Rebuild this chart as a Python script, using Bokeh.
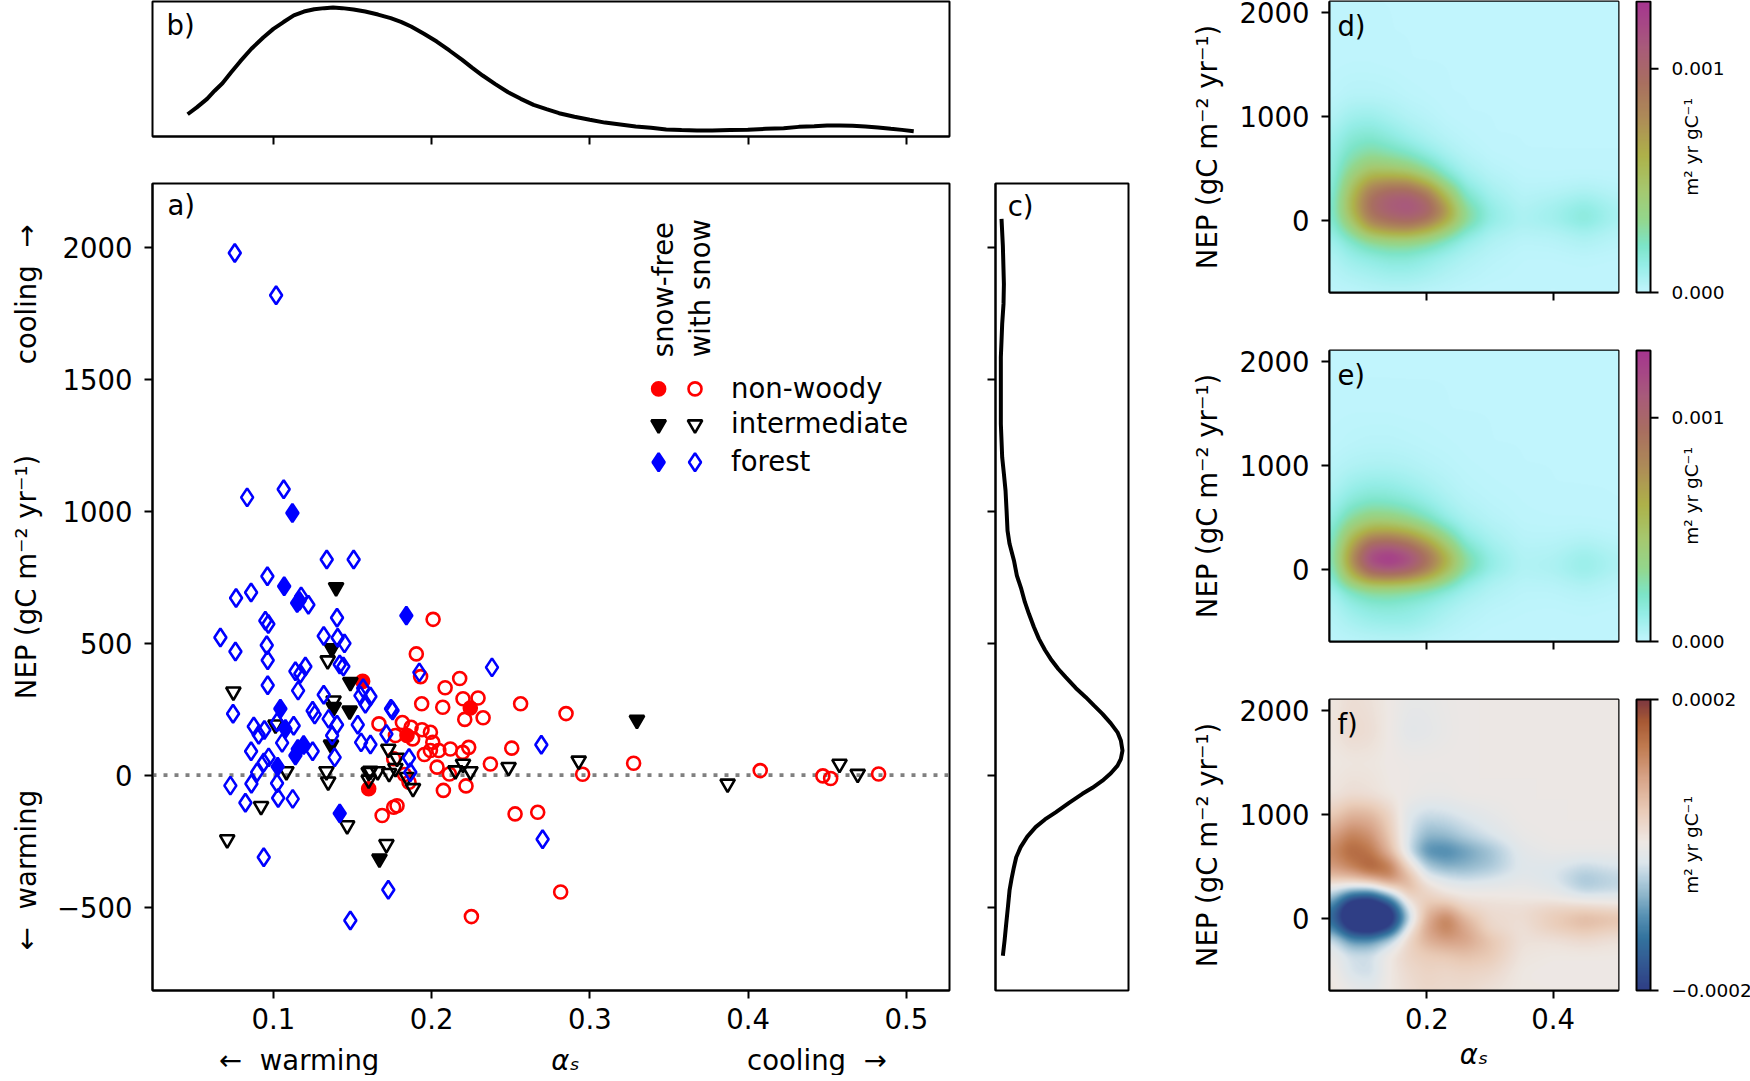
import numpy as np
from bokeh.embed import file_html
from bokeh.resources import INLINE
from bokeh.plotting import figure
from bokeh.layouts import column, row
from bokeh.models import Range1d, FixedTicker, Label, LinearColorMapper, Span

# ---------- scatter data (albedo, NEP) ----------
nonwoody_free_x = [.1564, .2244, .1844, .1602]
nonwoody_free_y = [355, 254, 150, -52]
nonwoody_snow_x = [.2009, .1903, .193, .2177, .2085, .1937, .207, .2198, .2293, .2209, .2325, .2562, .2849, .2506, .2234,
                   .2118, .2045, .1992, .1954, .2196, .2034, .2112, .2371, .2217, .2074, .2954, .3276, .2527, .267, .2815,
                   .2251, .1667, .1815, .1771, .187, .188, .1939, .1992, .2007, .176, .1828, .1857, .1781, .176, .1687,
                   .4076, .4472, .4521, .4824]
nonwoody_snow_y = [590, 459, 373, 366, 331, 270, 257, 289, 292, 211, 217, 270, 233, 102, 105,
                   99, 93, 93, 78, 86, 30, 4, 42, -41, -58, 3, 45, -147, -141, -443,
                   -536, 194, 199, 150, 181, 137, 172, 162, 124, 62, 2, -27, -116, -122, -153,
                   17, -3, -13, 4]
inter_free_x = [.1396, .1369, .1486, .1381, .1482, .1364, .3297, .167]
inter_free_y = [711, 480, 352, 257, 244, 115, 209, -317]
inter_snow_x = [.1343, .0747, .1013, .1082, .1335, .1346, .0922, .1466, .0708, .1714, .1602, .1602, .1612, .1659, .1731,
                .1771, .1781, .1726, .1844, .1882, .215, .2198, .2245, .2486, .2929, .387, .4577, .4692, .138]
inter_snow_y = [434, 316, 191, 14, 14, -25, -118, -191, -244, -262, -18, 11, 16, 14, 7,
                26, 65, 99, -8, -50, 17, 42, 14, 30, 54, -33, 42, 4, 282]
forest_free_x = [.112, .1068, .115, .1165, .184, .1044, .1076, .1191, .1154, .1139, .1027, .1419]
forest_free_y = [993, 715, 652, 660, 604, 251, 175, 114, 99, 74, 32, -145]
forest_snow_x = [.0756, .1017, .0834, .1065, .1337, .1507, .0962, .0859, .0764, .1175, .1221, .1402, .0949, .0968, .0665,
                 .076, .1318, .1406, .1449, .0958, .0964, .1419, .1442, .1202, .1139, .117, .1922, .1567, .0964, .1156,
                 .1318, .155, .1613, .1581, .1743, .1753, .0745, .0876, .0907, .0943, .1023, .1128, .1055, .1248, .1261,
                 .1349, .1402, .1533, .1371, .1554, .1613, .1714, .0859, .097, .0939, .0897, .1248, .1387, .0728, .0861,
                 .1023, .103, .1122, .0823, .0939, .1726, .1486, .1857, .1865, .2381, .2693, .2701]
forest_snow_y = [1978, 1818, 1052, 1083, 817, 817, 753, 692, 671, 677, 645, 596, 585, 572, 521,
                 468, 527, 520, 499, 492, 435, 419, 411, 411, 393, 384, 389, 329, 340, 320,
                 304, 301, 298, 270, 251, 245, 232, 184, 153, 171, 200, 187, 122, 244, 229,
                 213, 191, 191, 150, 124, 116, 156, 90, 67, 48, 11, 90, 67, -40, -33,
                 -31, -87, -90, -105, -311, -434, -551, 65, 11, 408, 115, -243]

# ---------- marginal curves ----------
b_x = [.0458, .0516, .0581, .0629, .0678, .0732, .079, .0861, .0936, .1, .1064, .1129, .1193, .1258, .1322, .1377, .1435,
       .1506, .158, .1661, .1741, .1806, .187, .1951, .2032, .2112, .2193, .2257, .2322, .2402, .2483, .2563, .2644, .2725,
       .2805, .2902, .2999, .3095, .3192, .3289, .3386, .3482, .3579, .3676, .3772, .3885, .3998, .4111, .4224, .432,
       .4417, .4498, .4578, .4659, .474, .482, .4901, .4972, .5046]
b_y = [1.04, 1.36, 1.76, 2.14, 2.49, 2.99, 3.51, 4.10, 4.63, 5.03, 5.35, 5.66, 5.84, 5.95, 6.0, 6.03, 6.0,
       5.94, 5.84, 5.70, 5.53, 5.36, 5.14, 4.80, 4.44, 4.02, 3.58, 3.21, 2.85, 2.45, 2.07, 1.76, 1.48, 1.28,
       1.09, .92, .78, .65, .56, .47, .41, .33, .30, .28, .28, .30, .31, .36, .39, .45,
       .48, .51, .51, .50, .47, .42, .36, .31, .25]
c_y = [2107, 2006, 1860, 1785, 1709, 1646, 1583, 1431, 1330, 1204, 1141, 1078, 1002, 926, 876, 813, 756, 705,
       655, 611, 560, 516, 474, 440, 402, 371, 330, 295, 263, 232, 196, 162, 131, 93, 61, 36, 7, -21, -48, -71, -105, -141,
       -168, -197, -233, -273, -311, -349, -393, -437, -500, -564, -627, -684]
c_x = [.063, .077, .088, .084, .07, .063, .056, .056, .056, .07, .088, .105, .116, .126, .147, .193, .224, .27,
       .308, .35, .403, .455, .518, .578, .658, .735, .84, .945, 1.033, 1.12, 1.208, 1.278, 1.313, 1.33, 1.313, 1.278, 1.208,
       1.12, 1.015, .91, .77, .63, .518, .42, .333, .263, .217, .193, .168, .147, .13, .112, .095, .077]

# ---------- density maps, in 1e-6 m2 yr gC-1 ----------
grid_alpha = [.05, .08, .11, .14, .17, .20, .23, .26, .30, .35, .40, .45, .50]
grid_nep = [-680, -500, -350, -200, -100, 0, 100, 200, 300, 400, 500, 650, 800, 1000, 1200, 1500, 1800, 2100]
map_d = [
    [15, 15, 25, 30, 30, 20, 15, 10, 5, 5, 5, 5, 5],
    [30, 60, 80, 100, 100, 80, 50, 30, 15, 8, 5, 8, 5],
    [50, 110, 140, 170, 170, 130, 90, 55, 25, 10, 10, 15, 10],
    [90, 190, 300, 350, 350, 300, 200, 110, 50, 20, 25, 50, 25],
    [130, 330, 600, 700, 720, 600, 400, 200, 80, 40, 50, 90, 40],
    [170, 480, 850, 950, 1000, 900, 650, 320, 130, 60, 90, 160, 70],
    [180, 580, 950, 1080, 1130, 1050, 750, 320, 130, 50, 85, 150, 70],
    [170, 580, 950, 1080, 1120, 980, 620, 240, 100, 35, 60, 100, 50],
    [150, 520, 850, 950, 950, 800, 450, 170, 70, 25, 30, 50, 25],
    [140, 430, 660, 700, 680, 500, 250, 110, 45, 15, 15, 20, 15],
    [130, 330, 470, 450, 400, 280, 150, 70, 25, 10, 8, 8, 8],
    [120, 230, 290, 250, 200, 130, 70, 30, 10, 5, 5, 5, 5],
    [90, 170, 190, 150, 100, 60, 30, 15, 5, 5, 5, 5, 5],
    [40, 90, 100, 70, 40, 25, 10, 5, 5, 5, 5, 5, 5],
    [15, 30, 30, 25, 15, 10, 5, 5, 5, 5, 5, 5, 5],
    [8, 10, 10, 8, 5, 5, 5, 5, 5, 5, 5, 5, 5],
    [5, 8, 8, 5, 5, 5, 5, 5, 5, 5, 5, 5, 5],
    [5, 8, 5, 5, 5, 5, 5, 5, 5, 5, 5, 5, 5],
]
map_e = [
    [15, 20, 25, 30, 30, 20, 15, 10, 5, 5, 5, 5, 5],
    [30, 70, 100, 110, 110, 80, 45, 25, 12, 8, 5, 8, 5],
    [50, 120, 160, 170, 150, 120, 80, 45, 22, 12, 10, 15, 10],
    [90, 220, 300, 310, 280, 230, 160, 95, 45, 20, 20, 35, 20],
    [150, 480, 700, 720, 680, 550, 350, 160, 70, 30, 35, 70, 30],
    [200, 680, 1050, 1130, 1050, 850, 560, 280, 120, 45, 60, 110, 55],
    [230, 780, 1220, 1320, 1200, 950, 640, 300, 130, 45, 55, 110, 55],
    [220, 700, 1100, 1150, 1040, 830, 520, 230, 100, 35, 40, 75, 40],
    [190, 580, 850, 880, 800, 600, 360, 150, 70, 25, 25, 40, 20],
    [170, 420, 580, 590, 520, 380, 220, 100, 50, 18, 15, 18, 12],
    [130, 290, 380, 370, 310, 220, 120, 65, 30, 12, 10, 10, 8],
    [90, 170, 210, 200, 170, 120, 70, 35, 18, 10, 8, 6, 5],
    [50, 105, 130, 125, 100, 70, 40, 20, 12, 8, 5, 5, 5],
    [25, 45, 55, 55, 45, 30, 20, 12, 8, 5, 5, 5, 5],
    [12, 20, 25, 25, 20, 15, 12, 8, 5, 5, 5, 5, 5],
    [8, 10, 10, 10, 8, 8, 5, 5, 5, 5, 5, 5, 5],
    [5, 5, 5, 5, 5, 5, 5, 5, 5, 5, 5, 5, 5],
    [5, 5, 5, 5, 5, 5, 5, 5, 5, 5, 5, 5, 5],
]
map_f = [
    [10, -5, -15, 5, 20, 30, 25, 25, 15, 5, 5, 5, 5],
    [5, -30, -35, 5, 25, 35, 30, 35, 30, 5, 3, 3, 3],
    [-5, -30, -30, 5, 35, 45, 50, 60, 50, 10, 5, 5, 5],
    [-30, -100, -100, -50, 30, 80, 100, 95, 55, 15, 15, 25, 15],
    [-100, -220, -250, -180, 0, 90, 130, 90, 30, 15, 40, 55, 40],
    [-140, -280, -300, -260, -50, 80, 135, 70, 25, 20, 45, 70, 60],
    [-120, -280, -300, -220, -20, 60, 80, 35, 20, 20, 35, 35, 25],
    [-60, -170, -190, -100, 30, 40, 25, 10, 10, 5, 0, -15, -15],
    [-10, -30, -30, 30, 70, 25, -5, -10, -10, -5, -15, -50, -40],
    [60, 70, 100, 130, 70, -15, -30, -40, -30, -15, -25, -55, -40],
    [100, 130, 170, 140, 30, -50, -75, -70, -55, -20, -20, -35, -25],
    [120, 160, 140, 70, -30, -105, -110, -90, -60, -15, -5, -5, -5],
    [95, 130, 110, 50, -25, -70, -65, -45, -25, -5, 0, 0, 0],
    [45, 75, 70, 35, -20, -35, -30, -20, -10, 0, 0, 0, 0],
    [10, 20, 15, 5, 0, -5, -5, 0, 0, 0, 0, 0, 0],
    [5, 8, 8, 3, 0, 0, 0, 0, 0, 0, 0, 0, 0],
    [10, 25, 20, 3, -15, -12, -5, 0, 0, 0, 0, 0, 0],
    [8, 20, 15, 3, -8, -8, -3, 0, 0, 0, 0, 0, 0],
]

# ---------- colour ramps ----------
seq_pos = [0, .09, .16, .25, .35, .47, .6, .72, .85, 1]
seq_col = ["#c1f5fd", "#96eee8", "#7de5c8", "#94d78d", "#a6c970", "#aeb24a", "#ae8c58", "#a97060", "#a85a7c", "#a63690"]
div_pos = [0, .095, .18, .26, .33, .385, .44, .51, .615, .73, .84, .925, 1]
div_col = ["#2f3e85", "#335a93", "#34749f", "#5a93b5", "#90b7cc", "#b6d0df", "#dde6ec", "#eee8e4", "#eacdb9", "#d8a488",
           "#c07b50", "#a85a35", "#7d3840"]


def ramp(pos, cols, n=256):
    rgb = np.array([[int(c[i:i + 2], 16) for i in (1, 3, 5)] for c in cols], float)
    t = np.linspace(0, 1, n)
    chan = [np.interp(t, pos, rgb[:, k]) for k in range(3)]
    return ["#%02x%02x%02x" % (int(r), int(g), int(b)) for r, g, b in zip(*chan)]


SEQ = ramp(seq_pos, seq_col)
DIV = ramp(div_pos, div_col)

FONT = "DejaVu Sans"
BIG = "27.5px"
SMALL = "18.5px"
LW = 2
TICK = 8
XA_LOW, XA_HIGH, YA_LOW, YA_HIGH = .0236, .5272, -816, 2241
XM_LOW, XM_HIGH, YM_LOW, YM_HIGH = .0455, .5036, -685, 2102
CB_HEIGHT = 291
CB_WIDTH = 14
NEP_LABEL = "NEP (gC m\u207b\u00b2 yr\u207b\u00b9)"
ALPHA_LABEL = "\u03b1\u209b"
UNIT_LABEL = "m\u00b2 yr gC\u207b\u00b9"
COOLING = "cooling\u00a0\u00a0\u2192"
WARMING = "\u2190\u00a0\u00a0warming"


def fig(xr, yr, fw, fh, left, right, top, bottom):
    p = figure(x_range=Range1d(*xr), y_range=Range1d(*yr), frame_width=fw, frame_height=fh, min_border_left=left,
               min_border_right=right, min_border_top=top, min_border_bottom=bottom, output_backend="svg",
               toolbar_location=None, tools="", background_fill_color="white", border_fill_color=None)
    p.grid.visible = False
    p.outline_line_color = "black"
    p.outline_line_width = LW
    for ax in p.axis:
        ax.axis_line_width = LW
        ax.major_tick_line_width = LW
        ax.major_tick_out = TICK
        ax.major_tick_in = 0
        ax.minor_tick_line_color = None
        ax.major_label_text_font = FONT
        ax.major_label_text_font_size = BIG
        ax.major_label_text_color = "black"
    p.xaxis.major_label_standoff = 9
    p.yaxis.major_label_standoff = 12
    return p


def strip(xr, yr, fw, fh, top=0, bottom=0, left=0, right=0):
    """Axis-free band holding what sits outside a panel."""
    p = figure(x_range=Range1d(*xr), y_range=Range1d(*yr), frame_width=fw, frame_height=fh, min_border=0,
               min_border_top=top, min_border_bottom=bottom, min_border_left=left, min_border_right=right,
               output_backend="svg", toolbar_location=None, tools="", x_axis_location=None, y_axis_location=None,
               background_fill_color=None, border_fill_color=None)
    p.grid.visible = False
    p.outline_line_color = None
    return p


def txt(p, x, y, s, size=BIG, angle=0, align="left", style="normal"):
    p.add_layout(Label(x=x, y=y, text=s, text_font=FONT, text_font_size=size, angle=angle, angle_units="deg",
                       text_align=align, text_baseline="middle", text_color="black", text_font_style=style))


def hide_labels(ax):
    ax.major_label_text_color = None
    ax.major_label_text_font_size = "1px"
    ax.major_label_standoff = 0


def field(values):
    """Display a read-off table on the pixel raster of the frame (the reference image is smooth)."""
    tab = np.array(values, float)
    fx = np.linspace(XM_LOW, XM_HIGH, 289)
    fy = np.linspace(YM_LOW, YM_HIGH, 291)
    a = np.array([np.interp(fx, grid_alpha, r) for r in tab])
    a = np.array([np.interp(fy, grid_nep, a[:, j]) for j in range(a.shape[1])]).T
    k = np.exp(-.5 * (np.arange(-15, 16) / 5.0) ** 2)
    k /= k.sum()
    a = np.array([np.convolve(np.pad(r, 15, mode="edge"), k, mode="valid") for r in a])
    a = np.array([np.convolve(np.pad(r, 15, mode="edge"), k, mode="valid") for r in a.T]).T
    return a * 1e-6


XTICKS_A = [.1, .2, .3, .4, .5]
YTICKS_A = [-500, 0, 500, 1000, 1500, 2000]

# ---------- a) ----------
a = fig((XA_LOW, XA_HIGH), (YA_LOW, YA_HIGH), 797, 807, 102, 23, 35, 50)
a.xaxis.ticker = FixedTicker(ticks=XTICKS_A)
a.yaxis.ticker = FixedTicker(ticks=YTICKS_A)
a.yaxis.major_label_overrides = {-500: "\u2212500"}
a.add_layout(Span(location=0, dimension="width", line_color="#808080", line_width=3.6, line_dash="4 7", level="underlay"))
SZ = 13
SZ_T = 14.5
SZ_D = 18
ST = 2.6
a.scatter(nonwoody_free_x, nonwoody_free_y, marker="circle", size=SZ, line_width=ST, line_color="red", fill_color="red")
a.scatter(nonwoody_snow_x, nonwoody_snow_y, marker="circle", size=SZ, line_width=ST, line_color="red", fill_color=None)
a.scatter(inter_free_x, inter_free_y, marker="inverted_triangle", size=SZ_T, line_width=ST, line_color="black", fill_color="black")
a.scatter(inter_snow_x, inter_snow_y, marker="inverted_triangle", size=SZ_T, line_width=ST, line_color="black", fill_color=None)
a.scatter(forest_free_x, forest_free_y, marker="diamond", size=SZ_D, line_width=ST, line_color="blue", fill_color="blue")
a.scatter(forest_snow_x, forest_snow_y, marker="diamond", size=SZ_D, line_width=ST, line_color="blue", fill_color=None)

LEG_X_FREE, LEG_X_SNOW, LEG_X_TEXT = .3434, .3664, .3892
LEG_Y = [1463, 1328, 1185]
LEG_TEXT_RAISE = 5
a.scatter([LEG_X_FREE], [LEG_Y[0]], marker="circle", size=SZ, line_width=ST, line_color="red", fill_color="red")
a.scatter([LEG_X_SNOW], [LEG_Y[0]], marker="circle", size=SZ, line_width=ST, line_color="red", fill_color=None)
a.scatter([LEG_X_FREE], [LEG_Y[1]], marker="inverted_triangle", size=SZ_T, line_width=ST, line_color="black", fill_color="black")
a.scatter([LEG_X_SNOW], [LEG_Y[1]], marker="inverted_triangle", size=SZ_T, line_width=ST, line_color="black", fill_color=None)
a.scatter([LEG_X_FREE], [LEG_Y[2]], marker="diamond", size=SZ_D, line_width=ST, line_color="blue", fill_color="blue")
a.scatter([LEG_X_SNOW], [LEG_Y[2]], marker="diamond", size=SZ_D, line_width=ST, line_color="blue", fill_color=None)
for yy, s in zip(LEG_Y, ["non-woody", "intermediate", "forest"]):
    txt(a, LEG_X_TEXT, yy + LEG_TEXT_RAISE, s)
txt(a, .3464, 1583, "snow-free", angle=90)
txt(a, .3697, 1583, "with snow", angle=90)
txt(a, .033, 2161, "a)")

# ---------- b) ----------
b = fig((XA_LOW, XA_HIGH), (0, 6.31), 797, 135, 102, 23, 1, 12)
b.yaxis.visible = False
b.xaxis.ticker = FixedTicker(ticks=XTICKS_A)
hide_labels(b.xaxis[0])
b.line(b_x, b_y, line_color="black", line_width=4)
txt(b, .0325, 5.19, "b)")

# ---------- c) ----------
c = fig((0, 1.393), (YA_LOW, YA_HIGH), 133, 807, 23, 9, 183, 85)
c.xaxis.visible = False
c.yaxis.ticker = FixedTicker(ticks=YTICKS_A)
hide_labels(c.yaxis[0])
c.line(c_x, c_y, line_color="black", line_width=4)
txt(c, .127, 2156, "c)")

# ---------- texts outside panel a ----------
left_band = strip((0, 50), (990, 183), 50, 807, top=183, bottom=85)
txt(left_band, 25.7, 294, COOLING, angle=90, align="center")
txt(left_band, 25.7, 576.5, NEP_LABEL, angle=90, align="center")
txt(left_band, 25.7, 869.4, WARMING, angle=90, align="center")
low_band = strip((152, 949), (1075, 1040), 797, 35, left=102, right=23)
txt(low_band, 218.8, 1059, WARMING)
txt(low_band, 565, 1059, ALPHA_LABEL, align="center", style="italic")
txt(low_band, 746.6, 1059, COOLING)


# ---------- d, e, f ----------
def heat(values, mapper, tag, top, bottom, last=False):
    p = fig((XM_LOW, XM_HIGH), (YM_LOW, YM_HIGH), 289, CB_HEIGHT, 192, 9, top, bottom)
    p.xaxis.ticker = FixedTicker(ticks=[.2, .4])
    p.yaxis.ticker = FixedTicker(ticks=[0, 1000, 2000])
    if last:
        p.xaxis.axis_label = ALPHA_LABEL
        p.xaxis.axis_label_text_font = FONT
        p.xaxis.axis_label_text_font_size = BIG
        p.xaxis.axis_label_text_font_style = "italic"
        p.xaxis.axis_label_text_color = "black"
        p.xaxis.axis_label_standoff = 6
    else:
        hide_labels(p.xaxis[0])
    p.yaxis.axis_label = NEP_LABEL
    p.yaxis.axis_label_text_font = FONT
    p.yaxis.axis_label_text_font_size = BIG
    p.yaxis.axis_label_text_font_style = "normal"
    p.yaxis.axis_label_text_color = "black"
    p.yaxis.axis_label_standoff = 14
    p.image(image=[field(values)], x=XM_LOW, y=YM_LOW, dw=XM_HIGH - XM_LOW, dh=YM_HIGH - YM_LOW, color_mapper=mapper)
    txt(p, .058, 1870, tag)
    return p


def bar(palette, low, high, ticks, labels, space_top, above, below, space_bottom):
    """Colour bar whose ticks and texts live in one wide frame, so the unit can sit between the tick labels."""
    mapper = LinearColorMapper(palette=palette, low=low, high=high)
    per_px = (high - low) / CB_HEIGHT
    lead = 2
    p = strip((-lead / CB_WIDTH, (117 - lead) / CB_WIDTH), (low - below * per_px, high + above * per_px), 117,
              CB_HEIGHT + above + below, top=space_top, bottom=space_bottom, left=7)
    p.image(image=[np.linspace(low, high, 256)[:, None]], x=0, y=low, dw=1, dh=high - low, color_mapper=mapper)
    p.quad(left=[0], right=[1], bottom=[low], top=[high], fill_color=None, line_color="black", line_width=LW)
    p.segment(x0=[1] * len(ticks), x1=[1 + TICK / CB_WIDTH] * len(ticks), y0=ticks, y1=ticks, line_color="black", line_width=LW)
    for t, s in zip(ticks, labels):
        txt(p, 2.5, t, s, size=SMALL)
    txt(p, 3.93, (low + high) / 2, UNIT_LABEL, size=SMALL, angle=90, align="center")
    return p


SEQ_MAP = LinearColorMapper(palette=SEQ, low=0, high=.0013)
DIV_MAP = LinearColorMapper(palette=DIV, low=-.0002, high=.0002)
d = heat(map_d, SEQ_MAP, "d)", 1, 28)
e = heat(map_e, SEQ_MAP, "e)", 30, 28)
f = heat(map_f, DIV_MAP, "f)", 30, 85, last=True)
cd = bar(SEQ, 0, .0013, [0, .001], ["0.000", "0.001"], 0, 1, 16, 12)
ce = bar(SEQ, 0, .0013, [0, .001], ["0.000", "0.001"], 14, 16, 16, 12)
cf = bar(DIV, -.0002, .0002, [-.0002, .0002], ["\u22120.0002", "0.0002"], 14, 16, 16, 69)

page = row(left_band, column(b, a, low_band, spacing=0), c, column(d, e, f, spacing=0), column(cd, ce, cf, spacing=0), spacing=0)
open("out.html", "w").write(file_html(page, INLINE))
